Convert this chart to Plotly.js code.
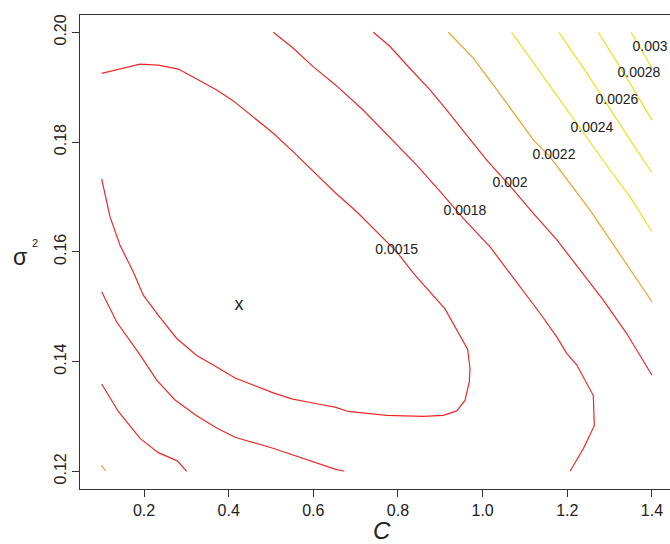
<!DOCTYPE html>
<html>
<head>
<meta charset="utf-8">
<script src="https://cdn.plot.ly/plotly-3.0.1.min.js"></script>
<style>html,body{margin:0;padding:0;background:#fff;}#chart{width:670px;height:544px;}</style>
</head>
<body>
<div id="chart"></div>
<script>
// Contour levels and their label positions (C, sigma^2)
const levelLabels = ['0.0015','0.0018','0.002','0.0022','0.0024','0.0026','0.0028','0.003'];
const labelC = [0.797, 0.9583, 1.0646, 1.1686, 1.2583, 1.3174, 1.3693, 1.3953];
const labelS = [0.1603, 0.1674, 0.1724, 0.1775, 0.1824, 0.1875, 0.1924, 0.1973];

// Estimated minimum
const minC = [0.4244];
const minS = [0.1503];

// Contour 0.0015 (U-shaped around the minimum)
const c0015_C = [0.1,0.1433,0.1906,0.2338,0.281,0.3245,0.3717,0.411,0.4582,0.5055,0.5527,0.6,0.6512,0.7025,0.7575,0.797,0.8362,0.9111,0.9647,0.9701,0.9685,0.9583,0.9387,0.9071,0.8598,0.7734,0.6826,0.6512,0.608,0.5489,0.5055,0.4582,0.415,0.3717,0.3245,0.2773,0.2338,0.1983,0.1747,0.1433,0.1197,0.1];
const c0015_S = [0.1925,0.1933,0.1942,0.194,0.1933,0.1915,0.1895,0.1875,0.1845,0.1816,0.1782,0.1746,0.1708,0.1673,0.1631,0.16,0.1561,0.1496,0.1422,0.1387,0.1363,0.1329,0.131,0.1302,0.13,0.1302,0.1309,0.1317,0.1323,0.1332,0.1343,0.1357,0.137,0.139,0.1411,0.1442,0.1484,0.1521,0.1563,0.1612,0.1664,0.1733];

// Contour 0.0018, lower-left piece
const c0018a_C = [0.1,0.1355,0.1906,0.23,0.2732,0.3245,0.3717,0.415,0.5047,0.6512,0.6732];
const c0018a_S = [0.1527,0.1472,0.1412,0.1366,0.133,0.1301,0.1279,0.1262,0.1242,0.1204,0.12];
// Contour 0.0018, upper-right piece
const c0018b_C = [0.5055,0.5527,0.6,0.6512,0.7181,0.7812,0.8442,0.8993,0.9543,1.0174,1.0646,1.0961,1.1355,1.175,1.1986,1.2222,1.2614,1.2638,1.2378,1.2064];
const c0018b_S = [0.2,0.1971,0.1937,0.1905,0.1858,0.1807,0.1758,0.171,0.1661,0.1609,0.1561,0.153,0.1488,0.1445,0.1415,0.1394,0.1338,0.1283,0.1241,0.12];

// Contour 0.002, lower-left piece
const c002a_C = [0.1,0.1393,0.1906,0.2338,0.2787,0.3009];
const c002a_S = [0.1359,0.1309,0.126,0.1234,0.1219,0.12];
// Contour 0.002, upper-right piece
const c002b_C = [0.7417,0.7812,0.8284,0.8756,0.9151,0.9623,1.0096,1.0646,1.1197,1.175,1.23,1.285,1.3403,1.4];
const c002b_S = [0.2,0.1974,0.1934,0.1895,0.1858,0.1813,0.1767,0.172,0.167,0.1622,0.1567,0.1512,0.1451,0.1375];

// Contour 0.0022, lower-left corner piece
const c0022a_C = [0.1,0.1094];
const c0022a_S = [0.1211,0.12];
// Contour 0.0022, upper-right piece
const c0022b_C = [0.9189,0.9779,1.0252,1.0646,1.1197,1.1591,1.2064,1.2536,1.3009,1.3481,1.4];
const c0022b_S = [0.2,0.1953,0.1904,0.1862,0.1804,0.1773,0.1725,0.1676,0.1622,0.1567,0.1509];

// Contours 0.0024 .. 0.003
const c0024_C = [1.0686,1.1591,1.2496,1.3009,1.3481,1.4];
const c0024_S = [0.2,0.1902,0.1804,0.1749,0.17,0.1637];
const c0026_C = [1.1804,1.2536,1.3481,1.4];
const c0026_S = [0.2,0.1917,0.1804,0.1744];
const c0028_C = [1.2732,1.3363,1.4];
const c0028_S = [0.2,0.1922,0.184];
const c003_C = [1.3505,1.4];
const c003_S = [0.2,0.1935];

const xTicks = [0.2,0.4,0.6,0.8,1.0,1.2,1.4];
const yTicks = [0.12,0.14,0.16,0.18,0.20];

const RED = '#EC2A2A', ORANGE = '#F5A02A', YELLOW = '#F0E11E';
const pieces = [
  [c0015_C, c0015_S, RED],
  [c0018a_C, c0018a_S, RED],
  [c0018b_C, c0018b_S, RED],
  [c002a_C, c002a_S, RED],
  [c002b_C, c002b_S, RED],
  [c0022a_C, c0022a_S, ORANGE],
  [c0022b_C, c0022b_S, ORANGE],
  [c0024_C, c0024_S, YELLOW],
  [c0026_C, c0026_S, YELLOW],
  [c0028_C, c0028_S, YELLOW],
  [c003_C, c003_S, YELLOW]
];

const FONT = 'Liberation Sans, Arial, Helvetica, sans-serif';
const traces = pieces.map(p => ({
  type: 'scatter', mode: 'lines', x: p[0], y: p[1],
  line: {color: p[2], width: 1.2, shape: 'linear'},
  hoverinfo: 'skip', showlegend: false
}));
traces.push({
  type: 'scatter', mode: 'text', x: labelC, y: labelS, text: levelLabels,
  textposition: 'middle center', textfont: {family: FONT, size: 14, color: '#222'},
  hoverinfo: 'skip', showlegend: false, cliponaxis: false
});
traces.push({
  type: 'scatter', mode: 'text', x: minC, y: minS, text: ['x'],
  textposition: 'middle center', textfont: {family: FONT, size: 18, color: '#222'},
  hoverinfo: 'skip', showlegend: false
});

const layout = {
  width: 670, height: 544,
  margin: {l: 80, r: 0, t: 15, b: 55, pad: 0},
  paper_bgcolor: '#fff', plot_bgcolor: '#fff',
  font: {family: FONT, size: 16, color: '#222'},
  showlegend: false,
  xaxis: {
    range: [0.0488, 1.4426], showgrid: false, zeroline: false,
    showline: true, linecolor: '#333', linewidth: 1, mirror: true,
    ticks: 'outside', ticklen: 7, tickwidth: 1, tickcolor: '#333',
    tickvals: xTicks, tickformat: '.1f',
    tickfont: {family: FONT, size: 16, color: '#222'}
  },
  yaxis: {
    range: [0.11677, 0.20315], showgrid: false, zeroline: false,
    showline: true, linecolor: '#333', linewidth: 1, mirror: false,
    ticks: 'outside', ticklen: 7, tickwidth: 1, tickcolor: '#333',
    tickvals: yTicks, tickformat: '.2f', tickangle: -90,
    tickfont: {family: FONT, size: 16, color: '#222'}
  },
  annotations: [
    {text: '<i>C</i>', xref: 'paper', yref: 'paper', x: 0.512, y: -0.0886,
     xanchor: 'center', yanchor: 'middle', showarrow: false,
     font: {family: FONT, size: 24, color: '#222'}},
    {text: 'σ', xref: 'paper', yref: 'paper', x: -0.1017, y: 0.49,
     xanchor: 'center', yanchor: 'middle', showarrow: false,
     font: {family: FONT, size: 23, color: '#222'}},
    {text: '2', xref: 'paper', yref: 'paper', x: -0.0763, y: 0.519,
     xanchor: 'center', yanchor: 'middle', showarrow: false,
     font: {family: FONT, size: 11, color: '#222'}}
  ]
};

Plotly.newPlot('chart', traces, layout, {staticPlot: true, displayModeBar: false});
</script>
</body>
</html>
